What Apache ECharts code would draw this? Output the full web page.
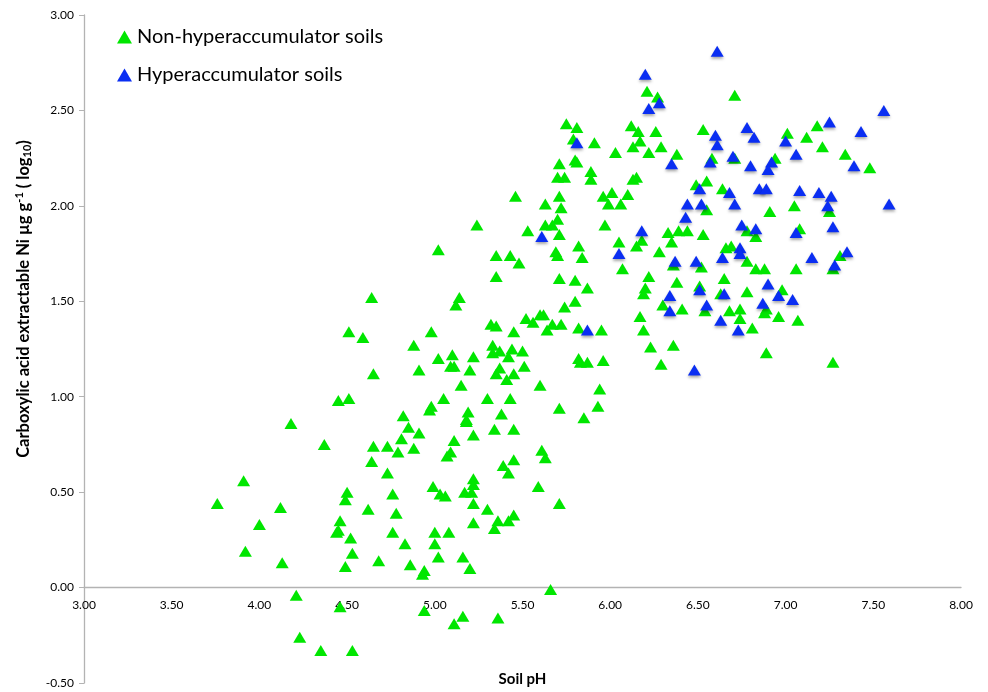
<!DOCTYPE html>
<html>
<head>
<meta charset="utf-8">
<script src="https://cdn.jsdelivr.net/npm/echarts@6/dist/echarts.min.js"></script>
<style>html,body{margin:0;padding:0;background:#fff;}#c{width:988px;height:692px;}</style>
</head>
<body>
<div id="c"></div>
<script>
// Non-hyperaccumulator soils: [soil pH, log10 Ni]
const nonHyperSoils = [
[4.65,1.12],[4.45,0.98],[4.51,0.99],[4.18,0.86],[4.37,0.75],[4.65,0.74],[4.73,0.74],[4.64,0.66],[4.73,0.60],[3.91,0.56],
[4.50,0.50],[4.49,0.46],[3.76,0.44],[4.12,0.42],[4.62,0.41],[4.00,0.33],[4.46,0.35],[4.44,0.29],[4.45,0.30],[4.52,0.26],
[3.92,0.19],[4.53,0.18],[4.13,0.13],[4.68,0.14],[4.49,0.11],[4.21,-0.04],[4.46,-0.10],[4.23,-0.26],[4.35,-0.33],[4.53,-0.33],
[4.64,1.52],[4.51,1.34],[4.59,1.31],
[5.02,1.77],[5.35,1.74],[5.43,1.74],[5.48,1.70],[5.35,1.63],[5.14,1.52],[5.12,1.48],[4.98,1.34],[5.32,1.38],[5.35,1.37],
[5.45,1.34],[5.52,1.41],[5.56,1.39],[5.60,1.43],[5.62,1.43],[5.64,1.35],[4.88,1.27],[5.33,1.27],[5.37,1.24],[5.33,1.23],
[5.44,1.25],[5.50,1.24],[5.42,1.21],[5.02,1.20],[5.10,1.22],[5.22,1.21],[4.91,1.14],[5.11,1.16],[5.09,1.16],[5.20,1.14],
[5.37,1.15],[5.51,1.16],[5.45,1.12],[5.35,1.12],
[5.41,1.09],[5.15,1.06],[5.60,1.06],[5.94,1.04],[5.05,0.99],[5.30,0.99],[5.43,0.99],[5.71,0.94],[5.93,0.95],[4.98,0.95],
[4.97,0.93],[4.82,0.90],[5.19,0.92],[5.18,0.88],[5.18,0.87],[5.38,0.91],[5.85,0.89],[4.85,0.84],[4.91,0.81],[5.22,0.80],
[5.34,0.83],[5.45,0.83],[4.81,0.78],[4.88,0.73],[4.79,0.71],[5.11,0.77],[5.09,0.71],[5.07,0.69],[5.61,0.72],[5.63,0.68],
[5.39,0.64],[5.45,0.67],[5.42,0.60],[5.22,0.57],[5.22,0.54],[4.99,0.53],[5.03,0.49],[5.06,0.48],[5.17,0.50],[5.21,0.50],
[5.59,0.53],[4.76,0.49],[5.22,0.44],[5.71,0.44],[4.78,0.39],[5.30,0.41],[5.36,0.35],[5.42,0.35],[5.45,0.38],[5.34,0.31],
[5.22,0.34],[4.76,0.29],[5.00,0.29],[5.08,0.29],[4.83,0.23],[5.00,0.23],[5.02,0.16],[5.16,0.16],[4.86,0.12],[5.20,0.10],
[4.94,0.09],[4.93,0.07],[5.66,-0.01],[4.94,-0.12],[5.16,-0.15],[5.11,-0.19],[5.36,-0.16],
[5.46,2.05],[5.63,2.01],[5.24,1.90],[5.53,1.87],[5.63,1.90],
[6.21,2.60],[6.27,2.57],[5.75,2.43],[5.81,2.41],[6.12,2.42],[6.16,2.39],[6.26,2.39],[5.79,2.35],[5.91,2.33],[6.17,2.34],
[6.13,2.31],[6.29,2.31],[6.03,2.28],[6.22,2.28],[6.38,2.27],[5.80,2.24],[5.81,2.23],[5.71,2.22],[5.70,2.15],[5.74,2.15],
[5.89,2.18],[5.89,2.14],[6.13,2.14],[6.15,2.15],[5.71,2.05],[5.72,1.99],[5.96,2.05],[6.01,2.07],[5.99,2.01],[6.06,2.01],
[6.10,2.06],[5.70,1.93],[5.67,1.90],[5.97,1.90],[5.71,1.85],[6.33,1.86],[6.39,1.87],[6.44,1.87],[6.18,1.82],
[5.69,1.76],[5.70,1.74],[5.82,1.79],[5.84,1.73],[5.71,1.62],[5.80,1.61],[5.87,1.57],[5.74,1.47],[5.80,1.50],[5.67,1.38],
[5.72,1.38],[5.82,1.36],[5.95,1.35],[5.82,1.20],[5.87,1.18],[5.96,1.19],[5.83,1.18],[6.05,1.81],[6.15,1.79],[6.07,1.67],
[6.28,1.76],[6.35,1.81],[6.36,1.69],[6.22,1.63],[6.20,1.57],[6.19,1.54],[6.38,1.60],[6.30,1.48],[6.41,1.46],[6.17,1.42],
[6.19,1.35],[6.23,1.26],[6.36,1.27],[6.29,1.17],[6.52,1.68],[6.49,2.11],
[6.71,2.58],[6.53,2.40],[7.01,2.38],[7.12,2.36],[7.18,2.42],[7.21,2.31],[6.71,2.25],[6.58,2.25],[6.94,2.25],[7.34,2.27],
[7.48,2.20],[6.55,2.13],[6.64,2.09],[6.55,1.98],[7.05,2.00],[7.25,1.97],[6.91,1.97],[6.78,1.87],[7.08,1.88],[6.53,1.85],
[6.83,1.84],
[6.66,1.78],[6.69,1.79],[6.78,1.71],[6.83,1.67],[6.88,1.67],[6.98,1.56],[7.06,1.67],[7.27,1.67],[7.31,1.74],[6.89,1.46],
[6.88,1.44],[6.74,1.46],[6.68,1.45],[6.74,1.41],[6.81,1.36],[6.96,1.42],[7.07,1.40],[6.89,1.23],[7.27,1.18],[6.78,1.55],
[6.65,1.62],[6.63,1.54],[6.54,1.45],[6.51,1.58]
];

// Hyperaccumulator soils: [soil pH, log10 Ni]
const hyperSoils = [
[5.61,1.84],
[6.28,2.54],[6.22,2.51],[5.81,2.33],[6.35,2.22],[6.18,1.87],[6.44,2.01],[6.43,1.94],
[5.87,1.35],[6.05,1.75],[6.37,1.71],[6.49,1.71],[6.34,1.53],[6.34,1.45],[6.48,1.14],
[6.20,2.69],
[6.61,2.81],[7.56,2.50],[6.60,2.37],[6.61,2.32],[6.78,2.41],[6.82,2.36],[7.00,2.34],[7.25,2.44],[7.43,2.39],[7.06,2.27],
[6.70,2.26],[6.57,2.23],[6.80,2.21],[6.92,2.23],[6.90,2.19],[7.39,2.21],[6.51,2.09],[6.68,2.07],[6.85,2.09],[6.89,2.09],
[7.08,2.08],[7.19,2.07],[7.26,2.05],[6.71,2.01],[6.52,2.01],[7.24,2.00],[7.59,2.01],[6.75,1.90],[6.83,1.88],[7.06,1.86],
[7.27,1.89],
[6.64,1.73],[6.74,1.78],[6.74,1.75],[6.90,1.59],[6.96,1.53],[7.04,1.51],[7.15,1.73],[7.28,1.69],[7.35,1.76],[6.87,1.49],
[6.63,1.40],[6.73,1.35],[6.65,1.54],[6.55,1.48],[6.51,1.56]
];

const seriesNames = ['Non-hyperaccumulator soils', 'Hyperaccumulator soils'];
const xTicks = { min: 3, max: 8, step: 0.5 };
const yTicks = { min: -0.5, max: 3, step: 0.5 };

const GRID = { left: 84, right: 27, top: 15, bottom: 9 };
const plotH = 692 - GRID.top - GRID.bottom;
// shift the x axis up from the grid bottom to the y = 0 line
const zeroOffset = -plotH * (0 - yTicks.min) / (yTicks.max - yTicks.min);

const FONT = 'Lato, "Open Sans", sans-serif';
const chart = echarts.init(document.getElementById('c'), null, { renderer: 'canvas' });
chart.setOption({
  animation: false,
  backgroundColor: '#fff',
  grid: Object.assign({ containLabel: false, outerBoundsMode: 'none' }, GRID),
  legend: {
    orient: 'vertical', left: 112, top: 22, itemGap: 18,
    icon: 'triangle', itemWidth: 15, itemHeight: 13,
    textStyle: { fontSize: 20, color: '#000', fontFamily: FONT },
    itemStyle: { opacity: 1 },
    data: seriesNames
  },
  xAxis: {
    type: 'value', min: xTicks.min, max: xTicks.max, interval: xTicks.step,
    position: 'bottom', offset: zeroOffset,
    name: 'Soil pH', nameLocation: 'middle', nameGap: 84,
    nameTextStyle: { fontSize: 15, fontWeight: 'bold', color: '#000', fontFamily: FONT },
    axisLine: { onZero: false, lineStyle: { color: '#b3b3b3', width: 1.3 } },
    axisTick: { show: false },
    axisLabel: { color: '#000', fontSize: 12, fontFamily: FONT, margin: 12,
      formatter: v => v.toFixed(2) },
    splitLine: { show: false }
  },
  yAxis: {
    type: 'value', min: yTicks.min, max: yTicks.max, interval: yTicks.step,
    name: 'Carboxylic acid extractable Ni µg g{sup|-1} ( log{sub|10})',
    nameLocation: 'middle', nameGap: 50, nameRotate: 90,
    nameTextStyle: { fontSize: 16.5, fontWeight: 'bold', color: '#000', fontFamily: FONT,
      padding: [0, 0, 0, 100],
      rich: {
        sup: { fontSize: 11, fontWeight: 'bold', color: '#000', fontFamily: FONT, padding: [0, 0, 9, 0] },
        sub: { fontSize: 11, fontWeight: 'bold', color: '#000', fontFamily: FONT, padding: [7, 0, 0, 0] }
      } },
    axisLine: { show: true, onZero: false, lineStyle: { color: '#b3b3b3', width: 1.3 } },
    axisTick: { show: true, length: 5, lineStyle: { color: '#b3b3b3' } },
    axisLabel: { color: '#000', fontSize: 12, fontFamily: FONT, margin: 10,
      formatter: v => v.toFixed(2) },
    splitLine: { show: false }
  },
  series: [
    { name: seriesNames[0], type: 'scatter', symbol: 'triangle', symbolSize: [13, 11],
      itemStyle: { color: '#00e600', opacity: 1 }, data: nonHyperSoils },
    { name: seriesNames[1], type: 'scatter', symbol: 'triangle', symbolSize: [13, 11],
      itemStyle: { color: '#0a2ef2', opacity: 1, shadowBlur: 3, shadowColor: 'rgba(0,0,0,0.35)', shadowOffsetY: 2 },
      data: hyperSoils }
  ]
});
</script>
</body>
</html>
